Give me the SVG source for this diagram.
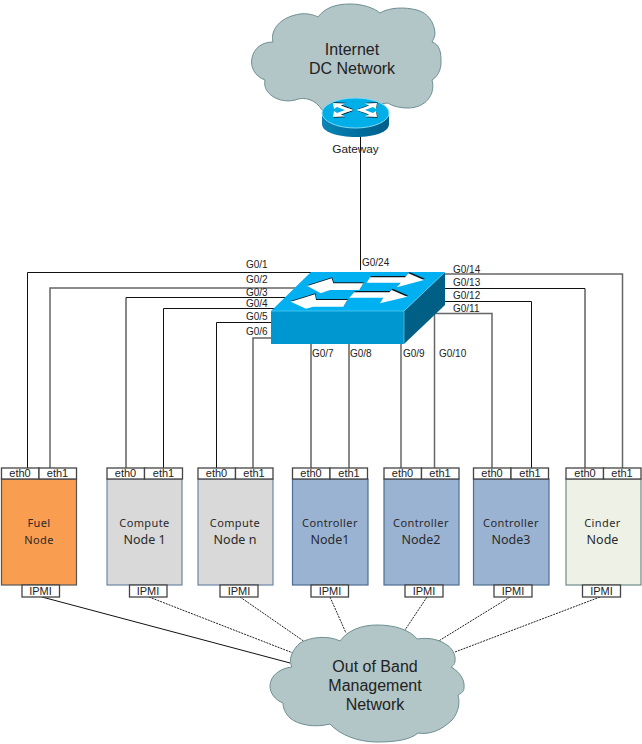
<svg xmlns="http://www.w3.org/2000/svg" xmlns:xlink="http://www.w3.org/1999/xlink" width="642" height="744" viewBox="0 0 642 744">
<style>
text{font-family:"Liberation Sans",Arial,sans-serif;fill:#222}
.cloud{fill:#b2c5c7;stroke:#6f8f93;stroke-width:1}
.ct{font-size:16px;text-anchor:middle}
.l{font-size:10px}
.w{fill:none;stroke:#111;stroke-width:1}
.g{fill:none;stroke:#666;stroke-width:1.5}
.d{fill:none;stroke:#222;stroke-width:1;stroke-dasharray:2 1}
.box{fill:#fff;stroke:#444;stroke-width:1.3}
.e{font-size:11px;text-anchor:middle}
.n{font-family:"Noto Sans","Open Sans",sans-serif;text-anchor:middle;fill:#2a2a2a}
.n1{font-size:11px;letter-spacing:.4px}
.n2{font-size:12.5px}
.orange{fill:#f99d50;stroke:#555}
.grey{fill:#d9d9d9;stroke:#6c86a4}
.blue{fill:#9ab3d3;stroke:#4f6d92}
.pale{fill:#eef2e6;stroke:#6e8a8a}
.body{stroke-width:1.2}
.ar{fill:#fff}
.sh{fill:#0b1a22}
</style>
<defs>
<linearGradient id="rs" x1="0" x2="1" y1="0" y2="0"><stop offset="0" stop-color="#0a85b5"/><stop offset=".5" stop-color="#0070a0"/><stop offset="1" stop-color="#005f88"/></linearGradient>
<polygon id="a1" points="370,277.3 405,277.3 408.3,273.3 424,280 396.7,287.3 400.7,282.7 366.7,282.7"/>
<polygon id="a2" points="307.3,286 331.7,278.3 333.3,283.3 363.3,283.3 359.3,290 330,290 320.7,293.3"/>
<polygon id="a3" points="354,292.3 389.3,292.3 391.7,290 407.3,296.7 380,303.3 383.3,297.7 349.3,297.7"/>
<polygon id="a4" points="290.7,301.7 315,294.3 316,300 347.3,300 343.3,306.7 313.3,306.7 306,308.7"/>
<polygon id="r1" points="333,103 345,103.5 341,105.5 353,110 349,111.5 337,107 334,109"/>
<polygon id="r2" points="377,103 365,103.5 369,105.5 357,110 361,111.5 373,107 376,109"/>
<polygon id="r3" points="333,117 345,116.5 341,114.5 353,110 349,108.5 337,113 334,111"/>
<polygon id="r4" points="377,117 365,116.5 369,114.5 357,110 361,108.5 373,113 376,111"/>
</defs>

<g id="connectors">
<path class="w" d="M360.5 135V270"/>
<path class="w" d="M27.5 468V272.5H312"/>
<path class="g" d="M50 468V288H296"/>
<path class="w" d="M126 468V297.5H288"/>
<path class="w" d="M163.5 468V308.5H278"/>
<path class="w" d="M216.5 468V322.5H272"/>
<path class="g" d="M253 468V338H272"/>
<path class="w" d="M311 344V468"/>
<path class="w" d="M349 344V468"/>
<path class="g" d="M401 340V468"/>
<path class="g" d="M434.5 310V468"/>
<path class="g" d="M622.5 468V274H444"/>
<path class="w" d="M585 468V288.5H444"/>
<path class="w" d="M531.5 468V301.5H444"/>
<path class="g" d="M492 468V313.5H436"/>
<path class="w" d="M42 597L290 663"/>
<path class="d" d="M149 597L293 653"/>
<path class="d" d="M240 597L305 642"/>
<path class="d" d="M330 597L346 633"/>
<path class="d" d="M427 597L405 630"/>
<path class="d" d="M510 597L437 642"/>
<path class="d" d="M600 597L455 652"/>
</g>

<g id="cloud-internet">
<path class="cloud" d="M265 80C254 76 250 66 252 58C254 48 262 42 273 42C270 30 280 17 300 14C308 13 314 15 318 17C325 8 335 4 350 4C363 4 374 8 380 13C390 7 405 7 417 10C428 13 434 22 435 33C435 37 433 40 432 42C440 45 441 52 441 62C441 70 438 76 432 80C436 95 425 108 408 108C400 108 392 106 388 103L322 110C316 100 305 96 295 100C280 104 262 94 265 80Z"/>
<text class="ct" x="352" y="55">Internet</text>
<text class="ct" x="352" y="74">DC Network</text>
</g>

<g id="gateway">
<path d="M322 113V124C322 132 337 137 356 137C375 137 389 132 389 124V113Z" fill="url(#rs)"/>
<ellipse cx="355.5" cy="113" rx="33.5" ry="15" fill="#00aee8" stroke="#7fdcf7" stroke-width="1"/>
<use xlink:href="#r1" href="#r1" class="sh" transform="translate(.5,-.8)"/>
<use xlink:href="#r2" href="#r2" class="sh" transform="translate(.5,-.8)"/>
<use xlink:href="#r3" href="#r3" class="sh" transform="translate(.5,.8)"/>
<use xlink:href="#r4" href="#r4" class="sh" transform="translate(.5,.8)"/>
<use xlink:href="#r1" href="#r1" class="ar"/>
<use xlink:href="#r2" href="#r2" class="ar"/>
<use xlink:href="#r3" href="#r3" class="ar"/>
<use xlink:href="#r4" href="#r4" class="ar"/>
<text x="355.5" y="153" font-size="11.8" text-anchor="middle">Gateway</text>
</g>

<g id="switch">
<polygon points="271,311 404,311 404,344 271,344" fill="#0096d0"/>
<polygon points="404,311 445,272 445,305 404,344" fill="#005f85"/>
<polygon points="311,272 445,272 404,311 271,311" fill="#00b0f0"/>
<path d="M271 311H404L445 272M404 311V344" fill="none" stroke="#5fd0f5" stroke-width=".7"/>
<use xlink:href="#a1" href="#a1" class="sh" transform="translate(1,-1.2)"/>
<use xlink:href="#a2" href="#a2" class="sh" transform="translate(.5,-1)"/>
<use xlink:href="#a3" href="#a3" class="sh" transform="translate(1,-1.2)"/>
<use xlink:href="#a4" href="#a4" class="sh" transform="translate(.5,-1)"/>
<use xlink:href="#a1" href="#a1" class="ar"/>
<use xlink:href="#a2" href="#a2" class="ar"/>
<use xlink:href="#a3" href="#a3" class="ar"/>
<use xlink:href="#a4" href="#a4" class="ar"/>
</g>

<g id="port-labels">
<text class="l" x="246" y="268">G0/1</text>
<text class="l" x="246" y="283">G0/2</text>
<text class="l" x="246" y="295.5">G0/3</text>
<text class="l" x="246" y="307">G0/4</text>
<text class="l" x="246" y="319.5">G0/5</text>
<text class="l" x="246" y="334.5">G0/6</text>
<text class="l" x="362" y="266">G0/24</text>
<text class="l" x="312" y="357">G0/7</text>
<text class="l" x="350" y="357">G0/8</text>
<text class="l" x="403" y="357">G0/9</text>
<text class="l" x="439" y="357">G0/10</text>
<text class="l" x="453" y="272.5">G0/14</text>
<text class="l" x="453" y="286">G0/13</text>
<text class="l" x="453" y="298.5">G0/12</text>
<text class="l" x="453" y="311.5">G0/11</text>
</g>

<g id="node-fuel">
<rect class="body orange" x="1.5" y="479" width="75" height="106"/>
<rect class="box" x="1.5" y="468" width="37.5" height="11"/><rect class="box" x="39" y="468" width="37.5" height="11"/>
<text class="e" x="20" y="477">eth0</text><text class="e" x="57.5" y="477">eth1</text>
<text class="n n1" x="39" y="527">Fuel</text><text class="n n1" x="39" y="544">Node</text>
<rect class="box" x="22" y="585" width="37.5" height="12"/><text class="e" x="40.5" y="595">IPMI</text>
</g>
<g id="node-compute1">
<rect class="body grey" x="107" y="479" width="75" height="106"/>
<rect class="box" x="107" y="468" width="37.5" height="11"/><rect class="box" x="144.5" y="468" width="38" height="11"/>
<text class="e" x="125.5" y="477">eth0</text><text class="e" x="163.5" y="477">eth1</text>
<text class="n n1" x="144.5" y="527">Compute</text><text class="n n2" x="144.5" y="544">Node 1</text>
<rect class="box" x="129.5" y="585" width="37.5" height="12"/><text class="e" x="148" y="595">IPMI</text>
</g>
<g id="node-computen">
<rect class="body grey" x="198" y="479" width="75" height="106"/>
<rect class="box" x="198" y="468" width="37.5" height="11"/><rect class="box" x="235.5" y="468" width="37.5" height="11"/>
<text class="e" x="216.5" y="477">eth0</text><text class="e" x="254" y="477">eth1</text>
<text class="n n1" x="235" y="527">Compute</text><text class="n n2" x="235" y="544">Node n</text>
<rect class="box" x="220" y="585" width="38" height="12"/><text class="e" x="239" y="595">IPMI</text>
</g>
<g id="node-controller1">
<rect class="body blue" x="292.5" y="479" width="75.5" height="106"/>
<rect class="box" x="292.5" y="468" width="37.5" height="11"/><rect class="box" x="330" y="468" width="37.5" height="11"/>
<text class="e" x="311" y="477">eth0</text><text class="e" x="349" y="477">eth1</text>
<text class="n n1" x="330" y="527">Controller</text><text class="n n2" x="330" y="544">Node1</text>
<rect class="box" x="311" y="585" width="37.5" height="12"/><text class="e" x="330" y="595">IPMI</text>
</g>
<g id="node-controller2">
<rect class="body blue" x="384" y="479" width="75" height="106"/>
<rect class="box" x="384" y="468" width="37.5" height="11"/><rect class="box" x="421.5" y="468" width="37.5" height="11"/>
<text class="e" x="402.5" y="477">eth0</text><text class="e" x="440" y="477">eth1</text>
<text class="n n1" x="421" y="527">Controller</text><text class="n n2" x="421" y="544">Node2</text>
<rect class="box" x="405" y="585" width="38" height="12"/><text class="e" x="424" y="595">IPMI</text>
</g>
<g id="node-controller3">
<rect class="body blue" x="473.5" y="479" width="75.5" height="106"/>
<rect class="box" x="473.5" y="468" width="37.5" height="11"/><rect class="box" x="511" y="468" width="37.5" height="11"/>
<text class="e" x="492" y="477">eth0</text><text class="e" x="530" y="477">eth1</text>
<text class="n n1" x="511" y="527">Controller</text><text class="n n2" x="511" y="544">Node3</text>
<rect class="box" x="494" y="585" width="38" height="12"/><text class="e" x="513" y="595">IPMI</text>
</g>
<g id="node-cinder">
<rect class="body pale" x="566" y="479" width="75" height="106"/>
<rect class="box" x="566" y="468" width="37.5" height="11"/><rect class="box" x="603.5" y="468" width="37.5" height="11"/>
<text class="e" x="585" y="477">eth0</text><text class="e" x="622" y="477">eth1</text>
<text class="n n1" x="602.5" y="527">Cinder</text><text class="n n2" x="602.5" y="544">Node</text>
<rect class="box" x="582.5" y="585" width="38" height="12"/><text class="e" x="601.5" y="595">IPMI</text>
</g>

<g id="cloud-oob">
<path class="cloud" d="M340 641C348 630 362 625 377 625C395 625 410 630 417 639C430 637 440 640 447 645C452 648 456 655 455 661C455 665 452 666 451 667C460 672 465 680 464 688C464 692 460 694 458 695C460 702 459 712 452 720C442 730 430 735 418 733C410 740 395 742 377 742C358 742 340 735 330 724C315 728 298 725 290 718C285 713 283 708 283 703C275 700 270 693 270 686C270 676 280 668 292 667C288 660 292 650 300 643C310 637 328 635 340 641Z"/>
<text class="ct" x="375" y="672">Out of Band</text>
<text class="ct" x="375" y="691">Management</text>
<text class="ct" x="375" y="710">Network</text>
</g>
</svg>
